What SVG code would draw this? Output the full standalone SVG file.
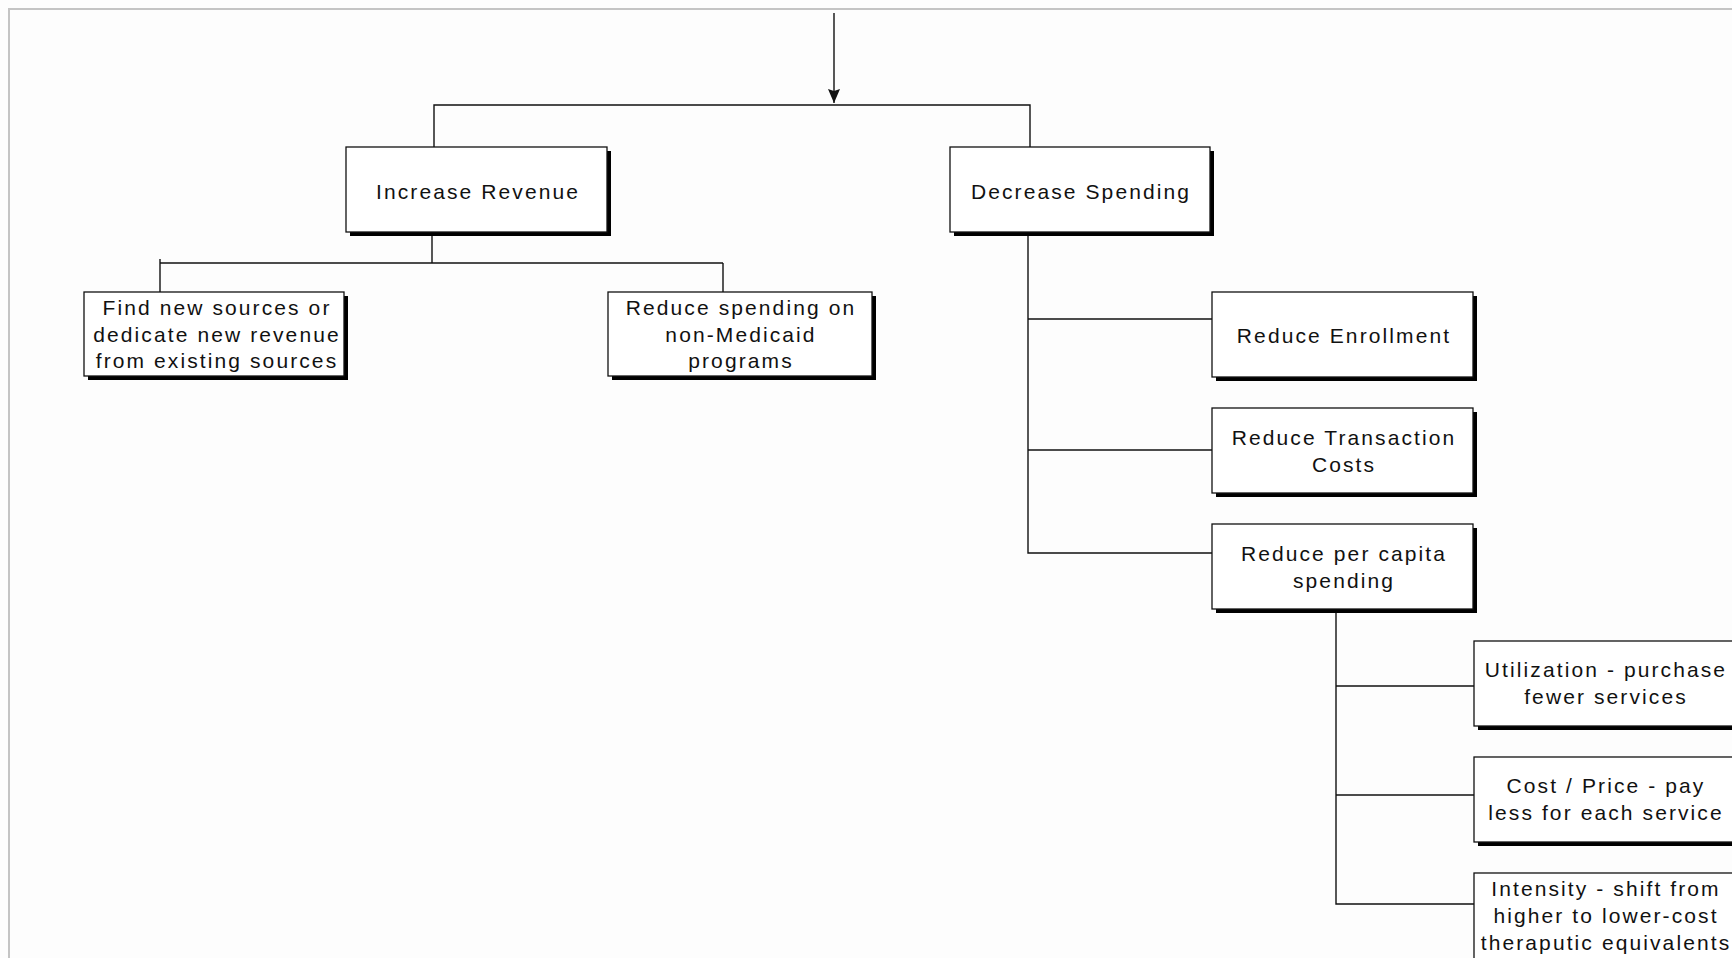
<svg xmlns="http://www.w3.org/2000/svg" width="1732" height="958" viewBox="0 0 1732 958">
<style>
.frame{fill:none;stroke:#c4c4c4;stroke-width:2}
.shadow{fill:#000}
.box{fill:#fff;stroke:#111;stroke-width:1.3}
.lbl{font-family:"Liberation Sans",Arial,sans-serif;font-size:21px;letter-spacing:2.1px;fill:#111;text-anchor:middle}
.conn{fill:none;stroke:#111;stroke-width:1.4}
</style>
<defs>
<marker id="arrow" markerWidth="14" markerHeight="12" refX="14" refY="6" orient="auto" markerUnits="userSpaceOnUse" viewBox="0 0 14 12">
<path d="M0,0 L14,6 L0,12 L2,6 Z" fill="#111"/>
</marker>
</defs>
<rect width="1732" height="958" fill="#fdfdfd"/>
<rect class="frame" x="9" y="9" width="1740" height="960"/>
<g id="connectors">
<path class="conn" d="M834,13 V103" marker-end="url(#arrow)"/>
<path class="conn" d="M434,147 V105 H1030 V147"/>
<path class="conn" d="M432,236 V263"/>
<path class="conn" d="M160,263 H723"/>
<path class="conn" d="M160,259 V292"/>
<path class="conn" d="M723,263 V292"/>
<path class="conn" d="M1028,236 V553 H1212"/>
<path class="conn" d="M1028,319 H1212"/>
<path class="conn" d="M1028,450 H1212"/>
<path class="conn" d="M1336,613 V904 H1474"/>
<path class="conn" d="M1336,686 H1474"/>
<path class="conn" d="M1336,795 H1474"/>
</g>
<g id="increase-revenue">
<rect class="shadow" x="350" y="151" width="261" height="85"/>
<rect class="box" x="346" y="147" width="261" height="85"/>
<text class="lbl" x="478" y="199">Increase Revenue</text>
</g>
<g id="decrease-spending">
<rect class="shadow" x="954" y="151" width="260" height="85"/>
<rect class="box" x="950" y="147" width="260" height="85"/>
<text class="lbl" x="1081" y="199">Decrease Spending</text>
</g>
<g id="find-new-sources">
<rect class="shadow" x="88" y="296" width="260" height="84"/>
<rect class="box" x="84" y="292" width="260" height="84"/>
<text class="lbl" x="217" y="315">Find new sources or</text>
<text class="lbl" x="217" y="342">dedicate new revenue</text>
<text class="lbl" x="217" y="368">from existing sources</text>
</g>
<g id="reduce-non-medicaid">
<rect class="shadow" x="612" y="296" width="264" height="84"/>
<rect class="box" x="608" y="292" width="264" height="84"/>
<text class="lbl" x="741" y="315">Reduce spending on</text>
<text class="lbl" x="741" y="342">non-Medicaid</text>
<text class="lbl" x="741" y="368">programs</text>
</g>
<g id="reduce-enrollment">
<rect class="shadow" x="1216" y="296" width="261" height="85"/>
<rect class="box" x="1212" y="292" width="261" height="85"/>
<text class="lbl" x="1344" y="343">Reduce Enrollment</text>
</g>
<g id="reduce-transaction">
<rect class="shadow" x="1216" y="412" width="261" height="85"/>
<rect class="box" x="1212" y="408" width="261" height="85"/>
<text class="lbl" x="1344" y="445">Reduce Transaction</text>
<text class="lbl" x="1344" y="472">Costs</text>
</g>
<g id="reduce-per-capita">
<rect class="shadow" x="1216" y="528" width="261" height="85"/>
<rect class="box" x="1212" y="524" width="261" height="85"/>
<text class="lbl" x="1344" y="561">Reduce per capita</text>
<text class="lbl" x="1344" y="588">spending</text>
</g>
<g id="utilization">
<rect class="shadow" x="1478" y="645" width="261" height="85"/>
<rect class="box" x="1474" y="641" width="261" height="85"/>
<text class="lbl" x="1606" y="677">Utilization - purchase</text>
<text class="lbl" x="1606" y="704">fewer services</text>
</g>
<g id="cost-price">
<rect class="shadow" x="1478" y="761" width="261" height="85"/>
<rect class="box" x="1474" y="757" width="261" height="85"/>
<text class="lbl" x="1606" y="793">Cost / Price - pay</text>
<text class="lbl" x="1606" y="820">less for each service</text>
</g>
<g id="intensity">
<rect class="shadow" x="1478" y="877" width="261" height="90"/>
<rect class="box" x="1474" y="873" width="261" height="90"/>
<text class="lbl" x="1606" y="896">Intensity - shift from</text>
<text class="lbl" x="1606" y="923">higher to lower-cost</text>
<text class="lbl" x="1606" y="950">theraputic equivalents</text>
</g>
</svg>
